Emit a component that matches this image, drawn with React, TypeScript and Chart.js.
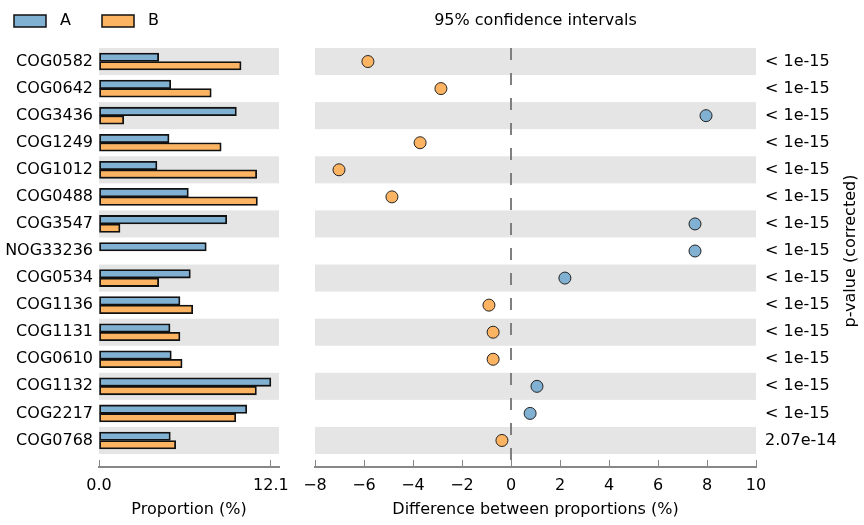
import React, { useEffect, useRef } from 'react';
import { Chart, registerables } from 'chart.js';

Chart.register(...registerables);

const categories = [
  'COG0582', 'COG0642', 'COG3436', 'COG1249', 'COG1012', 'COG0488', 'COG3547', 'NOG33236',
  'COG0534', 'COG1136', 'COG1131', 'COG0610', 'COG1132', 'COG2217', 'COG0768',
];
const proportionA = [4.2, 5.05, 9.67, 4.93, 4.08, 6.29, 8.99, 7.55, 6.43, 5.7, 5.0, 5.09, 12.1, 10.4, 5.02];
const proportionB = [10.0, 7.9, 1.74, 8.6, 11.1, 11.15, 1.48, 0.0, 4.2, 6.6, 5.7, 5.85, 11.08, 9.63, 5.4];
const differences = [-5.84, -2.86, 7.96, -3.71, -7.02, -4.86, 7.51, 7.51, 2.2, -0.9, -0.73, -0.73, 1.06, 0.78, -0.37];
const pValues = [
  '< 1e-15', '< 1e-15', '< 1e-15', '< 1e-15', '< 1e-15', '< 1e-15', '< 1e-15', '< 1e-15',
  '< 1e-15', '< 1e-15', '< 1e-15', '< 1e-15', '< 1e-15', '< 1e-15', '2.07e-14',
];
const diffTicks = [-8, -6, -4, -2, 0, 2, 4, 6, 8, 10];
const seriesLabels = ['A', 'B'];
const chartTitle = '95% confidence intervals';
const leftAxisTitle = 'Proportion (%)';
const rightAxisTitle = 'Difference between proportions (%)';
const pValueTitle = 'p-value (corrected)';

const BLUE = '#80B1D3';
const ORANGE = '#FDB462';
const BAND = '#E5E5E5';
const AXIS = '#878787';
const FONT = { family: 'DejaVu Sans', size: 16 };

const maxProp = Math.max(...proportionA, ...proportionB);
const Y_MIN = -0.5;
const Y_MAX = categories.length - 0.02;

const noPad = (s: any) => {
  s.paddingLeft = 0;
  s.paddingRight = 0;
  s.paddingTop = 0;
  s.paddingBottom = 0;
};

const spacer = (position: string, size: number, extra: any = {}) => ({
  type: 'linear',
  position,
  min: 0,
  max: 1,
  offset: false,
  ticks: { display: false },
  grid: { display: false, drawTicks: false },
  border: { display: false },
  afterFit: (s: any) => {
    if (position === 'top' || position === 'bottom') s.height = size;
    else s.width = size;
    noPad(s);
  },
  ...extra,
});

const bandPlugin = {
  id: 'bands',
  beforeDatasetsDraw(chart: any) {
    const { ctx, chartArea } = chart;
    const y = chart.scales.y;
    ctx.save();
    ctx.fillStyle = BAND;
    categories.forEach((_, i) => {
      if (i % 2) return;
      const t = y.getPixelForValue(i - 0.5);
      const b = y.getPixelForValue(i + 0.5);
      ctx.fillRect(chartArea.left, Math.min(t, b), chartArea.right - chartArea.left, Math.abs(b - t));
    });
    ctx.restore();
  },
};

const legendPlugin = {
  id: 'boxLegend',
  afterDraw(chart: any) {
    const { ctx } = chart;
    ctx.save();
    chart.data.datasets.forEach((ds: any, i: number) => {
      const x0 = 14 + i * 88;
      ctx.fillStyle = ds.backgroundColor;
      ctx.fillRect(x0, 15, 32, 12);
      ctx.strokeStyle = '#111';
      ctx.lineWidth = 1.5;
      ctx.strokeRect(x0, 15, 32, 12);
      ctx.fillStyle = '#000';
      ctx.font = `${FONT.size}px "${FONT.family}"`;
      ctx.textBaseline = 'middle';
      ctx.textAlign = 'left';
      ctx.fillText(ds.label, x0 + 46, 21);
    });
    ctx.restore();
  },
};

const zeroLinePlugin = {
  id: 'zeroLine',
  beforeDatasetsDraw(chart: any) {
    const { ctx, chartArea } = chart;
    const x = chart.scales.x.getPixelForValue(0);
    ctx.save();
    ctx.strokeStyle = '#7f7f7f';
    ctx.lineWidth = 2;
    ctx.setLineDash([12, 13]);
    ctx.beginPath();
    ctx.moveTo(x, chartArea.top);
    ctx.lineTo(x, chartArea.bottom);
    ctx.stroke();
    ctx.restore();
  },
};

const sideTitlePlugin = {
  id: 'sideTitle',
  afterDraw(chart: any) {
    const { ctx, chartArea } = chart;
    ctx.save();
    ctx.translate(chart.width - 13, (chartArea.top + chart.scales.y.getPixelForValue(categories.length - 0.5)) / 2);
    ctx.rotate(-Math.PI / 2);
    ctx.fillStyle = '#000';
    ctx.font = `${FONT.size}px "${FONT.family}"`;
    ctx.textAlign = 'center';
    ctx.textBaseline = 'middle';
    ctx.fillText(pValueTitle, 0, 0);
    ctx.restore();
  },
};

const fmtMinus = (v: number) => (v < 0 ? '\u2212' + Math.abs(v) : String(v));

export default function App() {
  const leftRef = useRef<HTMLCanvasElement>(null);
  const rightRef = useRef<HTMLCanvasElement>(null);

  useEffect(() => {
    document.body.style.margin = '0';
    const left = new Chart(leftRef.current!, {
      type: 'bar',
      data: {
        datasets: [
          {
            label: seriesLabels[0],
            data: proportionA.map((v, i) => ({ x: v, y: i })),
            xAxisID: 'x',
            yAxisID: 'y',
            backgroundColor: BLUE,
            borderColor: '#111',
            borderWidth: 1.8,
            borderSkipped: false,
            barThickness: 8.5,
          },
          {
            label: seriesLabels[1],
            data: proportionB.map((v, i) => ({ x: v, y: i })),
            xAxisID: 'x',
            yAxisID: 'y',
            backgroundColor: ORANGE,
            borderColor: '#111',
            borderWidth: 1.8,
            borderSkipped: false,
            barThickness: 8.5,
          },
        ] as any,
      },
      options: {
        indexAxis: 'y',
        animation: false,
        responsive: false,
        layout: { padding: 0 },
        plugins: { legend: { display: false }, tooltip: { enabled: false } },
        scales: {
          y: {
            type: 'linear',
            reverse: true,
            offset: false,
            min: Y_MIN,
            max: Y_MAX,
            afterBuildTicks: (s: any) => {
              s.ticks = categories.map((_, i) => ({ value: i }));
            },
            ticks: {
              callback: (v: any) => categories[Math.round(v)],
              font: FONT,
              color: '#000',
              padding: 6,
              autoSkip: false,
            },
            grid: { display: false, drawTicks: false, offset: false },
            border: { display: false },
            afterFit: (s: any) => {
              s.width = 99;
              noPad(s);
            },
          },
          x: {
            type: 'linear',
            min: 0,
            max: maxProp * 1.047,
            afterBuildTicks: (s: any) => {
              s.ticks = [{ value: 0 }, { value: maxProp }];
            },
            ticks: {
              callback: (v: any) => Number(v).toFixed(1),
              font: FONT,
              color: '#000',
              padding: 16,
              maxRotation: 0,
              autoSkip: false,
            },
            grid: { drawOnChartArea: false, tickLength: -7, color: AXIS },
            border: { color: AXIS, width: 2 },
            title: { display: true, text: leftAxisTitle, font: FONT, color: '#000', padding: { top: 0, bottom: 6 } },
            afterFit: (s: any) => {
              s.height = 58;
              noPad(s);
            },
          },
          padTop: spacer('top', 48),
          padRight: spacer('right', 21),
        },
      } as any,
      plugins: [bandPlugin, legendPlugin],
    });

    const right = new Chart(rightRef.current!, {
      type: 'scatter',
      data: {
        datasets: [
          {
            data: differences.map((d, i) => ({ x: d, y: i })),
            xAxisID: 'x',
            yAxisID: 'y',
            pointBackgroundColor: differences.map((d) => (d < 0 ? ORANGE : BLUE)),
            pointBorderColor: '#222',
            pointBorderWidth: 1,
            pointRadius: 6,
          },
        ],
      },
      options: {
        animation: false,
        responsive: false,
        layout: { padding: 0 },
        plugins: { legend: { display: false }, tooltip: { enabled: false } },
        scales: {
          x: {
            type: 'linear',
            min: diffTicks[0],
            max: diffTicks[diffTicks.length - 1],
            afterBuildTicks: (s: any) => {
              s.ticks = diffTicks.map((v) => ({ value: v }));
            },
            ticks: { callback: (v: any) => fmtMinus(Number(v)), font: FONT, color: '#000', padding: 16, maxRotation: 0, autoSkip: false },
            grid: { drawOnChartArea: false, tickLength: -7, color: AXIS },
            border: { color: AXIS, width: 2 },
            title: { display: true, text: rightAxisTitle, font: FONT, color: '#000', padding: { top: 0, bottom: 6 } },
            afterFit: (s: any) => {
              s.height = 58;
              noPad(s);
            },
          },
          xTop: spacer('top', 48, {
            min: diffTicks[0],
            max: diffTicks[diffTicks.length - 1],
            title: { display: true, text: chartTitle, font: FONT, color: '#000', padding: { top: 11, bottom: 0 } },
          }),
          padLeft: spacer('left', 15),
          y: {
            type: 'linear',
            position: 'right',
            reverse: true,
            min: Y_MIN,
            max: Y_MAX,
            afterBuildTicks: (s: any) => {
              s.ticks = pValues.map((_, i) => ({ value: i }));
            },
            ticks: {
              callback: (v: any) => pValues[Math.round(v)],
              font: FONT,
              color: '#000',
              padding: 9,
              autoSkip: false,
            },
            grid: { display: false, drawTicks: false },
            border: { display: false },
            afterFit: (s: any) => {
              s.width = 108;
              noPad(s);
            },
          },
        },
      } as any,
      plugins: [bandPlugin, zeroLinePlugin, sideTitlePlugin],
    });

    return () => {
      left.destroy();
      right.destroy();
    };
  }, []);

  return (
    <div style={{ position: 'relative', width: 864, height: 525 }}>
      <canvas ref={leftRef} width={300} height={525} style={{ position: 'absolute', left: 0, top: 0 }} />
      <canvas ref={rightRef} width={564} height={525} style={{ position: 'absolute', left: 300, top: 0 }} />
    </div>
  );
}
